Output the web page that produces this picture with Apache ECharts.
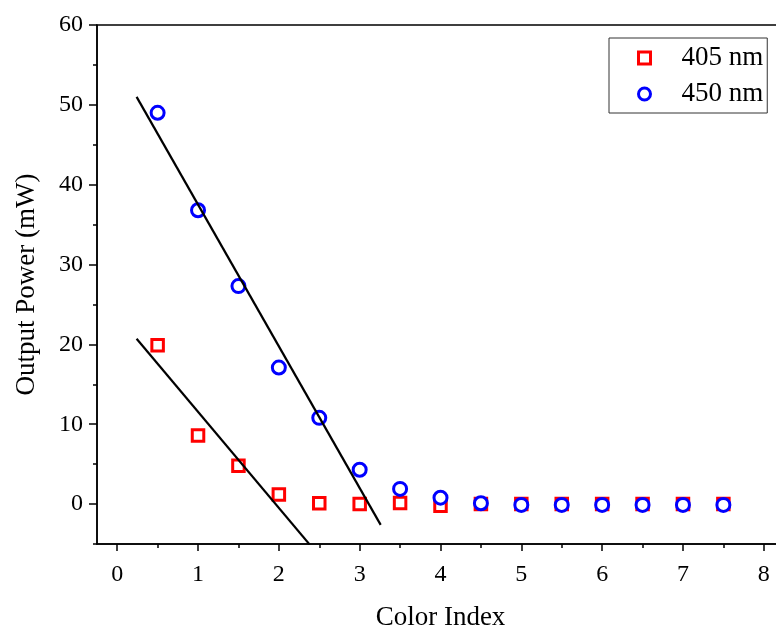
<!DOCTYPE html>
<html>
<head>
<meta charset="utf-8">
<script src="https://cdn.jsdelivr.net/npm/echarts@6/dist/echarts.min.js"></script>
<style>
  html, body { margin: 0; padding: 0; background: #fff; }
  #chart { width: 776px; height: 627px; }
</style>
</head>
<body>
<div id="chart"></div>
<script>
// measured values
var colorIndex = [0.5, 1, 1.5, 2, 2.5, 3, 3.5, 4, 4.5, 5, 5.5, 6, 6.5, 7, 7.5];
var power405 = [19.9, 8.6, 4.8, 1.2, 0.1, 0, 0.15, -0.2, 0, 0, 0, 0, 0, 0, 0];
var power450 = [49.0, 36.8, 27.3, 17.1, 10.8, 4.3, 1.9, 0.8, 0.1, -0.1, -0.1, -0.1, -0.1, -0.1, -0.1];

// linear fit lines (end points)
var fit405 = [[0.24, 20.7], [2.38, -5.05]];
var fit450 = [[0.24, 51.0], [3.26, -2.6]];

// ticks
var xMajor = [0, 1, 2, 3, 4, 5, 6, 7, 8];
var xMinor = [0.5, 1.5, 2.5, 3.5, 4.5, 5.5, 6.5, 7.5];
var yMajor = [0, 10, 20, 30, 40, 50, 60];
var yMinor = [-5, 5, 15, 25, 35, 45, 55];

var font = 'Liberation Serif';

function pairs(xs, ys) {
    var res = [];
    for (var i = 0; i < xs.length; i++) {
        res.push([xs[i], ys[i]]);
    }
    return res;
}

var myChart = echarts.init(document.getElementById('chart'));

var axisLine = { show: true, onZero: false, lineStyle: { color: '#000', width: 1.5 } };
var tickStyle = { color: '#000', width: 1.5 };

var option = {
    backgroundColor: '#fff',
    animation: false,
    grid: {
        left: 97, top: 25, right: -8, bottom: 83,
        show: true, borderColor: '#000', borderWidth: 1.5,
        containLabel: false,
        outerBoundsMode: 'none'
    },
    legend: {
        orient: 'vertical',
        left: 609, top: 38,
        padding: [5, 4, 4, 28],
        itemGap: 6,
        itemWidth: 12, itemHeight: 12,
        itemStyle: { borderWidth: 3 },
        borderColor: '#333', borderWidth: 1,
        backgroundColor: '#fff',
        data: ['405 nm', '450 nm'],
        textStyle: {
            fontFamily: font, fontSize: 27, color: '#000',
            lineHeight: 30, padding: [0, 0, 0, 26]
        }
    },
    xAxis: [
        {
            type: 'value', min: -0.25, max: 8.25,
            name: 'Color Index', nameLocation: 'middle', nameGap: 60,
            nameTextStyle: { fontFamily: font, fontSize: 27, color: '#000' },
            axisLine: axisLine,
            axisTick: { show: true, length: 7, inside: false, customValues: xMajor, lineStyle: tickStyle },
            axisLabel: { customValues: xMajor, margin: 19, fontFamily: font, fontSize: 24, color: '#000' },
            splitLine: { show: false }
        },
        {
            type: 'value', min: -0.25, max: 8.25, position: 'bottom', offset: 0,
            axisLine: { show: false, onZero: false },
            axisTick: { show: true, length: 4, inside: false, customValues: xMinor, lineStyle: tickStyle },
            axisLabel: { show: false },
            splitLine: { show: false }
        }
    ],
    yAxis: [
        {
            type: 'value', min: -5, max: 60,
            name: 'Output Power (mW)', nameLocation: 'middle', nameGap: 57,
            nameTextStyle: { fontFamily: font, fontSize: 27, color: '#000' },
            axisLine: axisLine,
            axisTick: { show: true, length: 8, inside: false, customValues: yMajor, lineStyle: tickStyle },
            axisLabel: { customValues: yMajor, margin: 14, fontFamily: font, fontSize: 24, color: '#000' },
            splitLine: { show: false }
        },
        {
            type: 'value', min: -5, max: 60, position: 'left', offset: 0,
            axisLine: { show: false, onZero: false },
            axisTick: { show: true, length: 4, inside: false, customValues: yMinor, lineStyle: tickStyle },
            axisLabel: { show: false },
            splitLine: { show: false }
        }
    ],
    series: [
        {
            name: '405 nm', type: 'scatter', data: pairs(colorIndex, power405),
            symbol: 'rect', symbolSize: 11.5, z: 2,
            itemStyle: { color: '#fff', borderColor: '#ff0000', borderWidth: 3, opacity: 1 }
        },
        {
            name: '450 nm', type: 'scatter', data: pairs(colorIndex, power450),
            symbol: 'circle', symbolSize: 13, z: 3,
            itemStyle: { color: '#fff', borderColor: '#0000ff', borderWidth: 3, opacity: 1 }
        },
        {
            name: 'fit405', type: 'line', data: fit405, z: 4,
            showSymbol: false, silent: true,
            lineStyle: { color: '#000', width: 2.2 }
        },
        {
            name: 'fit450', type: 'line', data: fit450, z: 4,
            showSymbol: false, silent: true,
            lineStyle: { color: '#000', width: 2.2 }
        }
    ]
};

myChart.setOption(option);
window.addEventListener('resize', function () {
    myChart.resize();
});
</script>
</body>
</html>
